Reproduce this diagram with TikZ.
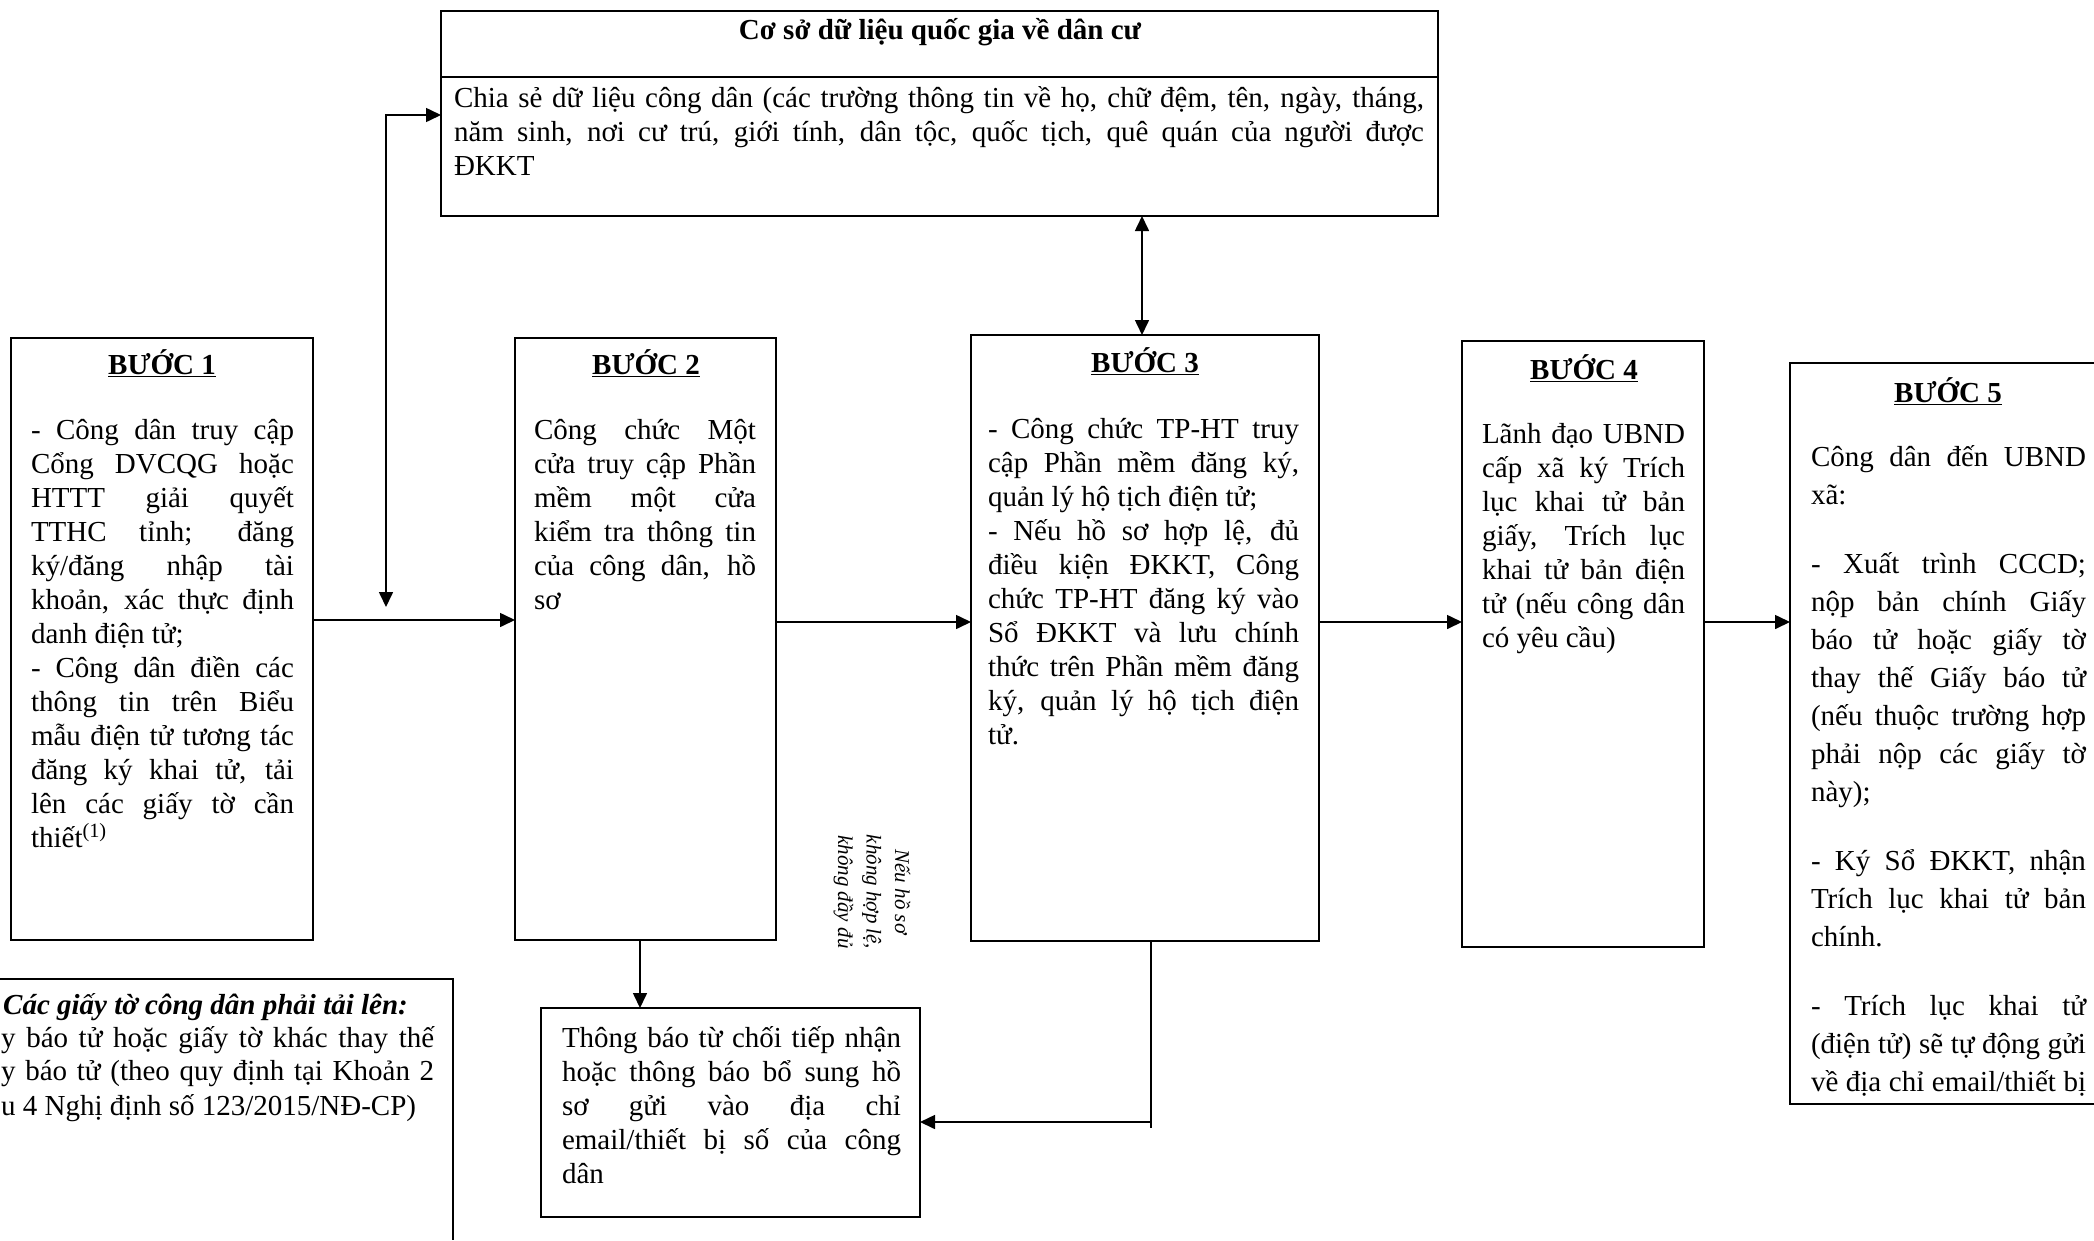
\documentclass[tikz,border=0pt]{standalone}
\usepackage{fontspec}
\setmainfont{Liberation Serif}
\usetikzlibrary{arrows.meta}
\newcommand{\ns}{\spaceskip=0pt\xspaceskip=0pt\relax}
\newcommand{\jl}[1]{\makebox[\hsize][s]{\ns #1}}
\newcommand{\fa}{\fontsize{29}{34}\selectfont}
\newcommand{\fb}{\fontsize{29}{38}\selectfont}
\newcommand{\fr}{\fontsize{21}{28.5}\selectfont\itshape}
\newcommand{\tp}{\rule{0pt}{26pt}}
\tikzset{
  box/.style={draw, line width=1.6pt, inner sep=0pt, outer sep=0pt, anchor=north west},
  body/.style={anchor=north west, inner sep=0pt, outer sep=0pt, align=left, font=\fa},
  ttl/.style={anchor=base, inner sep=0pt, font=\fa\bfseries},
  arr/.style={line width=1.6pt, -{Triangle[length=15pt,width=14pt]}},
  dbl/.style={line width=1.6pt, {Triangle[length=15pt,width=14pt]}-{Triangle[length=15pt,width=14pt]}},
  edge line/.style={line width=1.6pt}
}
\begin{document}
\begin{tikzpicture}[x=1pt,y=-1pt]
\path[fill=white, use as bounding box] (0,0) rectangle (2094,1240);

% boxes
\node[box, minimum width=997, minimum height=205] (top) at (441,11) {};
\draw[edge line] (top.west |- 0,77) -- (top.east |- 0,77);
\node[box, minimum width=302, minimum height=602] (b1) at (11,338) {};
\node[box, minimum width=261, minimum height=602] (b2) at (515,338) {};
\node[box, minimum width=348, minimum height=606] (b3) at (971,335) {};
\node[box, minimum width=242, minimum height=606] (b4) at (1462,341) {};
\node[box, minimum width=379, minimum height=209] (rej) at (541,1008) {};
\draw[edge line] (2094,363) -- (1790,363) -- (1790,1104) -- (2094,1104);
\draw[edge line] (0,979) -- (453,979) -- (453,1240);

% top box texts
\node[ttl] (toptitle) at (940,39) {Cơ sở dữ liệu quốc gia về dân cư};
\node[body, text width=970] (toptext) at (454,81) {\ns
\jl{\tp Chia sẻ dữ liệu công dân (các trường thông tin về họ, chữ đệm, tên, ngày, tháng,}\\
\jl{năm sinh, nơi cư trú, giới tính, dân tộc, quốc tịch, quê quán của người được}\\
ĐKKT};

% step 1
\node[ttl] (t1) at (162,374.5) {\underline{BƯỚC 1}};
\node[body, text width=263] (x1) at (31,413) {\ns
\jl{\tp - Công dân truy cập}\\
\jl{Cổng DVCQG hoặc}\\
\jl{HTTT giải quyết}\\
\jl{TTHC tỉnh; đăng}\\
\jl{ký/đăng nhập tài}\\
\jl{khoản, xác thực định}\\
danh điện tử;\\
\jl{- Công dân điền các}\\
\jl{thông tin trên Biểu}\\
\jl{mẫu điện tử tương tác}\\
\jl{đăng ký khai tử, tải}\\
\jl{lên các giấy tờ cần}\\
thiết\textsuperscript{(1)}};

% step 2
\node[ttl] (t2) at (646,374.5) {\underline{BƯỚC 2}};
\node[body, text width=222] (x2) at (534,413) {\ns
\jl{\tp Công chức Một}\\
\jl{cửa truy cập Phần}\\
\jl{mềm một cửa}\\
\jl{kiểm tra thông tin}\\
\jl{của công dân, hồ}\\
sơ};

% step 3
\node[ttl] (t3) at (1145,372.5) {\underline{BƯỚC 3}};
\node[body, text width=311] (x3) at (988,412) {\ns
\jl{\tp - Công chức TP-HT truy}\\
\jl{cập Phần mềm đăng ký,}\\
quản lý hộ tịch điện tử;\\
\jl{- Nếu hồ sơ hợp lệ, đủ}\\
\jl{điều kiện ĐKKT, Công}\\
\jl{chức TP-HT đăng ký vào}\\
\jl{Sổ ĐKKT và lưu chính}\\
\jl{thức trên Phần mềm đăng}\\
\jl{ký, quản lý hộ tịch điện}\\
tử.};

% step 4
\node[ttl] (t4) at (1584,379.5) {\underline{BƯỚC 4}};
\node[body, text width=203] (x4) at (1482,417) {\ns
\jl{\tp Lãnh đạo UBND}\\
\jl{cấp xã ký Trích}\\
\jl{lục khai tử bản}\\
\jl{giấy, Trích lục}\\
\jl{khai tử bản điện}\\
\jl{tử (nếu công dân}\\
có yêu cầu)};

% step 5
\node[ttl] (t5) at (1948,402.5) {\underline{BƯỚC 5}};
\node[body, font=\fb, text width=275] (x5) at (1811,440) {\ns
\jl{\tp Công dân đến UBND}\\
xã:\\[31pt]
\jl{- Xuất trình CCCD;}\\
\jl{nộp bản chính Giấy}\\
\jl{báo tử hoặc giấy tờ}\\
\jl{thay thế Giấy báo tử}\\
\jl{(nếu thuộc trường hợp}\\
\jl{phải nộp các giấy tờ}\\
này);\\[31pt]
\jl{- Ký Sổ ĐKKT, nhận}\\
\jl{Trích lục khai tử bản}\\
chính.\\[31pt]
\jl{- Trích lục khai tử}\\
\jl{(điện tử) sẽ tự động gửi}\\
\jl{về địa chỉ email/thiết bị}};

% reject box text
\node[body, text width=339] (xr) at (562,1021) {\ns
\jl{\tp Thông báo từ chối tiếp nhận}\\
\jl{hoặc thông báo bổ sung hồ}\\
\jl{sơ gửi vào địa chỉ}\\
\jl{email/thiết bị số của công}\\
dân};

% note box text (cut at the left edge)
\node[anchor=base west, inner sep=0pt, font=\fa\bfseries\itshape] (n0) at (3,1014) {Các giấy tờ công dân phải tải lên:};
\node[anchor=base west, inner sep=0pt, font=\fa] (n1) at (1,1047) {\makebox[433pt][s]{y báo tử hoặc giấy tờ khác thay thế}};
\node[anchor=base west, inner sep=0pt, font=\fa] (n2) at (1,1080) {\makebox[433pt][s]{y báo tử (theo quy định tại Khoản 2}};
\node[anchor=base west, inner sep=0pt, font=\fa] (n3) at (1,1115) {u 4 Nghị định số 123/2015/NĐ-CP)};

% rotated label
\node[rotate=-90, align=center, inner sep=0pt, font=\fr] (lbl) at (872,892) {\ns Nếu hồ sơ\\\ns không hợp lệ,\\\ns không đầy đủ};

% connector helper coordinates
\coordinate (ya) at (0,620);
\coordinate (yb) at (0,622);
\coordinate (jt) at (386,115);
\coordinate (jb) at (386,607);
\coordinate (xv) at (1142,0);
\coordinate (xd) at (640,0);
\coordinate (c3) at (1151,1122);
\coordinate (c3b) at (1151,1128);
\coordinate (b5w) at (1790,622);

% connectors
\draw[arr] (b1.east |- ya) -- (b2.west |- ya);
\draw[dbl] (jb) |- (top.west |- jt);
\draw[arr] (b2.east |- yb) -- (b3.west |- yb);
\draw[arr] (b3.east |- yb) -- (b4.west |- yb);
\draw[arr] (b4.east |- yb) -- (b5w);
\draw[dbl] (top.south -| xv) -- (b3.north -| xv);
\draw[arr] (b2.south -| xd) -- (rej.north -| xd);
\draw[edge line] (b3.south -| c3) -- (c3b);
\draw[arr] (c3) -- (rej.east |- c3);
\end{tikzpicture}
\end{document}
